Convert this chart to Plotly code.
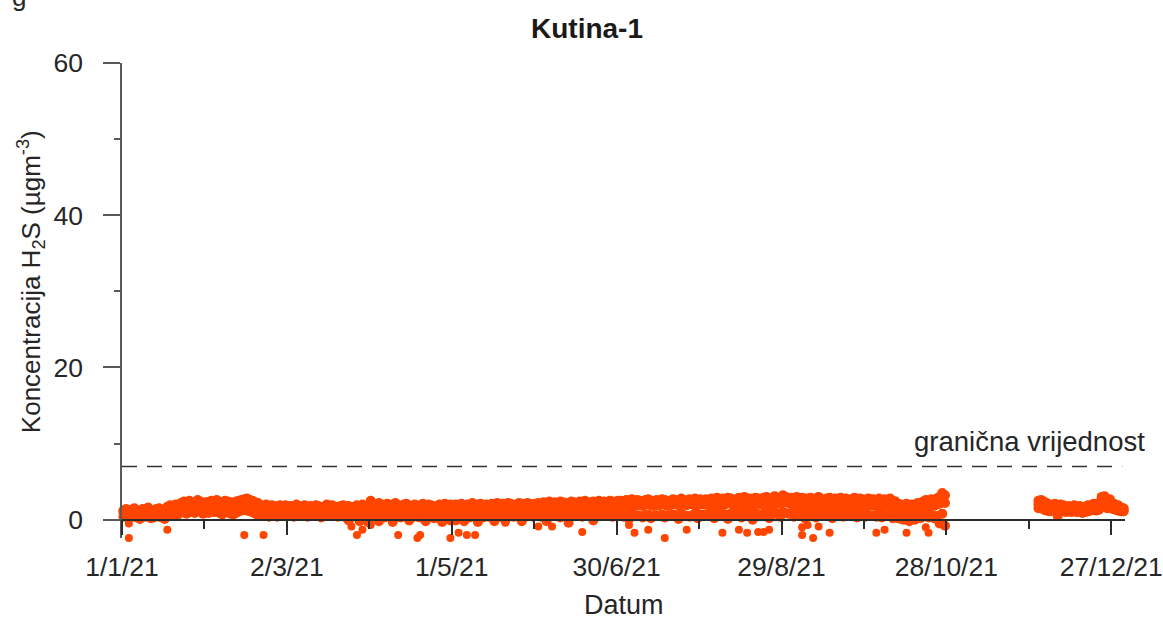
import pandas as pd
import plotly.graph_objects as go

# ---------------- data ----------------
TITLE = "Kutina-1"
X_TICK_DATES = ["2021-01-01", "2021-03-02", "2021-05-01", "2021-06-30",
                "2021-08-29", "2021-10-28", "2021-12-27"]
X_TICK_TEXT = ["1/1/21", "2/3/21", "1/5/21", "30/6/21", "29/8/21", "28/10/21", "27/12/21"]
Y_TICKS = [0, 20, 40, 60]
LIMIT_VALUE = 7  # granična vrijednost

MONTH_STARTS = ["2021-01-01", "2021-02-01", "2021-03-01", "2021-04-01", "2021-05-01",
                "2021-06-01", "2021-07-01", "2021-08-01", "2021-09-01", "2021-10-01",
                "2021-11-30"]

# daily upper values
JAN_HI = [1.2,1.4,1.1,1.3,1.5,1.2,1.0,1.4,1.3,1.6,1.2,1.1,1.4,1.5,1.3,1.2,
          1.7,1.9,1.6,2.0,1.8,2.2,2.4,2.1,2.5,2.3,2.2,2.6,2.4,2.1,2.3]
FEB_HI = [2.3,2.5,2.4,2.6,2.3,2.2,2.5,2.4,2.3,2.2,2.4,2.5,2.6,2.7,2.8,2.6,2.5,2.3,2.2,1.9,
          1.8,2.0,1.7,1.9,1.8,1.6,1.9,1.8]
MAR_HI = [1.9,1.7,1.8,1.6,2.0,1.8,1.7,1.9,1.6,1.8,1.7,1.9,1.8,1.6,1.7,2.0,1.8,1.9,1.7,1.6,
          1.8,1.9,1.7,1.8,1.6,1.7,1.9,1.8,2.0,1.7,1.8]
APR_HI = [2.5,2.1,1.9,2.2,2.0,1.8,2.1,1.9,2.0,2.2,1.9,1.8,2.0,2.1,1.9,1.7,2.0,1.8,1.9,2.1,
          1.8,2.0,1.9,1.7,1.8,2.0,1.9,2.1,1.8,2.0]
MAY_HI = [1.9,2.0,1.8,2.1,1.9,2.0,1.8,2.2,1.9,2.0,2.1,1.8,2.0,1.9,2.1,2.0,2.2,1.9,2.1,2.0,
          2.2,2.1,1.9,2.0,2.2,2.1,2.0,2.2,2.1,1.9,2.1]
JUN_HI = [2.2,2.1,2.3,2.2,2.4,2.1,2.3,2.2,2.4,2.3,2.1,2.2,2.4,2.3,2.2,2.4,2.3,2.5,2.2,2.3,
          2.4,2.2,2.5,2.3,2.4,2.2,2.5,2.4,2.3,2.5]
JUL_HI = [2.5,2.4,2.6,2.5,2.7,2.4,2.6,2.5,2.4,2.6,2.7,2.5,2.4,2.6,2.5,2.7,2.6,2.4,2.5,2.7,
          2.6,2.5,2.8,2.6,2.5,2.7,2.6,2.8,2.5,2.7,2.6]
AUG_HI = [2.7,2.6,2.8,2.7,2.9,2.6,2.8,2.7,2.9,2.8,2.6,2.7,2.9,2.8,3.0,2.7,2.8,2.6,2.9,2.8,
          2.7,2.9,3.0,2.8,2.7,3.1,2.9,2.8,3.2,3.0,2.9]
SEP_HI = [2.9,2.8,3.0,2.7,2.9,2.8,2.6,2.9,2.7,2.8,3.0,2.7,2.6,2.8,2.9,2.7,2.8,2.6,2.9,2.7,
          2.8,2.6,2.7,2.9,2.6,2.8,2.7,2.6,2.8,2.7]
OCT_HI = [2.7,2.6,2.8,2.5,2.7,2.6,2.8,2.5,2.4,2.1,2.0,1.9,2.1,1.8,2.0,1.9,2.2,2.1,2.4,2.6,
          2.5,2.7,2.6,2.8,3.0,3.5,3.2]
DEC_HI = [2.5,2.6,2.4,2.2,2.0,1.9,2.1,1.8,2.0,1.9,1.7,1.8,1.6,1.9,1.7,1.8,1.6,1.7,1.9,1.8,
          2.1,2.0,2.2,3.0,3.1,2.4,2.7,2.2,2.0,1.9,1.6,1.5]

# daily typical values
JAN_MID = [1.0,1.1,0.9,1.2,1.0,1.1,0.8,1.2,1.0,1.3,0.9,1.0,1.1,1.2,1.0,0.9,
           1.3,1.5,1.2,1.6,1.4,1.7,1.8,1.6,1.9,1.7,1.6,2.0,1.8,1.6,1.7]
FEB_MID = [1.7,1.9,1.8,2.0,1.7,1.6,1.9,1.8,1.7,1.6,1.8,1.9,2.0,2.1,2.1,2.0,1.9,1.7,1.6,1.4,
           1.3,1.5,1.2,1.4,1.3,1.2,1.4,1.3]
MAR_MID = [1.3,1.2,1.3,1.1,1.4,1.3,1.2,1.4,1.1,1.3,1.2,1.4,1.3,1.1,1.2,1.4,1.3,1.4,1.2,1.1,
           1.3,1.4,1.2,1.3,1.1,1.2,1.4,1.3,1.5,1.2,1.3]
APR_MID = [1.6,1.4,1.3,1.5,1.3,1.2,1.4,1.3,1.3,1.5,1.2,1.1,1.3,1.4,1.2,1.0,1.3,1.1,1.2,1.4,
           1.1,1.3,1.2,1.0,1.1,1.3,1.2,1.4,1.1,1.3]
MAY_MID = [1.3,1.4,1.2,1.5,1.3,1.4,1.2,1.5,1.3,1.4,1.5,1.2,1.4,1.3,1.5,1.4,1.6,1.3,1.5,1.4,
           1.6,1.5,1.3,1.4,1.6,1.5,1.4,1.6,1.5,1.3,1.5]
JUN_MID = [1.6,1.5,1.7,1.6,1.8,1.5,1.7,1.6,1.8,1.7,1.5,1.6,1.8,1.7,1.6,1.8,1.7,1.9,1.6,1.7,
           1.8,1.6,1.9,1.7,1.8,1.6,1.9,1.8,1.7,1.9]
JUL_MID = [1.9,1.8,2.0,1.9,2.1,1.8,2.0,1.9,1.8,2.0,2.1,1.9,1.8,2.0,1.9,2.1,2.0,1.8,1.9,2.1,
           2.0,1.9,2.2,2.0,1.9,2.1,2.0,2.2,1.9,2.1,2.0]
AUG_MID = [2.0,1.9,2.1,2.0,2.2,1.9,2.1,2.0,2.2,2.1,1.9,2.0,2.2,2.1,2.3,2.0,2.1,1.9,2.2,2.1,
           2.0,2.2,2.3,2.1,2.0,2.4,2.2,2.1,2.4,2.3,2.2]
SEP_MID = [2.1,2.0,2.2,1.9,2.1,2.0,1.8,2.1,1.9,2.0,2.2,1.9,1.8,2.0,2.1,1.9,2.0,1.8,2.1,1.9,
           2.0,1.8,1.9,2.1,1.8,2.0,1.9,1.8,2.0,1.9]
OCT_MID = [1.9,1.8,2.0,1.7,1.9,1.8,2.0,1.7,1.6,1.4,1.3,1.2,1.4,1.1,1.3,1.2,1.5,1.4,1.6,1.8,
           1.7,1.9,1.8,2.0,2.1,2.4,2.2]
DEC_MID = [2.0,2.1,1.9,1.7,1.6,1.5,1.7,1.4,1.6,1.5,1.4,1.5,1.3,1.5,1.4,1.4,1.3,1.4,1.5,1.5,
           1.7,1.6,1.8,2.4,2.5,2.0,2.2,1.8,1.7,1.6,1.4,1.3]

# daily lower values
JAN_LO = [0.4,0.5,0.2,0.6,0.4,0.3,0.1,0.5,0.4,0.6,0.2,0.3,0.5,0.4,0.3,0.1,
          0.6,0.8,0.5,0.9,0.7,1.0,1.1,0.8,1.2,1.0,0.9,1.2,1.1,0.8,1.0]
FEB_LO = [0.9,1.1,1.0,1.2,0.9,0.7,1.1,1.0,0.8,0.7,0.9,1.1,1.2,1.3,1.2,1.1,1.0,0.8,0.6,0.5,
          0.5,0.7,0.4,0.6,0.5,0.4,0.7,0.5]
MAR_LO = [0.7,0.5,0.6,0.4,0.8,0.6,0.5,0.7,0.4,0.6,0.5,0.7,0.6,0.3,0.5,0.7,0.6,0.8,0.5,0.4,
          0.6,0.7,0.3,-0.1,0.4,0.6,0.5,-0.2,0.4,0.5,-0.3]
APR_LO = [0.6,0.4,0.5,-0.2,0.5,0.3,0.6,0.4,-0.3,0.7,0.4,0.3,0.5,0.6,-0.1,0.3,0.5,0.4,0.3,0.6,
          -0.2,0.5,0.4,0.2,0.3,0.5,-0.3,0.6,0.3,-0.1]
MAY_LO = [0.5,-0.1,0.4,0.6,-0.2,0.5,0.3,0.6,0.4,-0.3,0.6,0.3,0.5,0.4,0.6,-0.2,0.7,0.4,0.5,-0.1,
          0.7,0.6,0.4,0.5,0.7,-0.2,0.5,0.7,0.6,0.4,0.6]
JUN_LO = [0.6,0.4,0.7,-0.2,0.7,0.5,0.6,0.5,0.3,0.6,0.5,-0.4,0.7,0.6,0.5,0.7,0.4,0.8,0.5,0.6,
          -0.1,0.5,0.8,0.6,0.7,0.5,0.8,0.4,0.6,0.8]
JUL_LO = [0.6,0.4,0.7,0.1,0.7,0.5,0.6,0.5,0.3,0.6,0.7,0.2,0.5,0.6,0.5,0.7,0.3,0.5,0.6,0.7,
          0.6,0.1,0.8,0.6,0.5,0.4,0.6,0.8,0.2,0.7,0.6]
AUG_LO = [0.7,0.5,0.8,0.2,0.9,0.6,0.8,0.7,0.1,0.8,0.5,0.7,0.9,0.3,1.0,0.6,0.8,0.0,0.9,0.7,
          0.6,0.8,1.0,0.2,0.7,1.0,0.8,0.4,1.0,0.9,0.8]
SEP_LO = [0.9,0.4,1.0,0.7,0.9,0.2,0.6,0.9,0.7,0.3,1.0,0.7,0.5,0.8,0.9,0.2,0.8,0.6,0.9,0.4,
          0.8,0.5,0.7,0.9,0.3,0.8,0.6,0.4,0.7,0.5]
OCT_LO = [0.6,0.4,0.7,0.3,0.6,0.5,0.7,0.2,0.3,0.2,0.1,0.0,0.3,-0.2,0.1,0.0,0.3,0.2,0.4,0.5,
          0.3,0.6,0.2,0.5,-0.5,0.8,-0.8]
DEC_LO = [1.5,1.6,1.3,1.2,1.1,1.2,1.3,0.5,1.1,1.2,1.0,1.1,1.0,1.1,1.0,1.1,0.9,1.0,1.1,1.2,
          1.3,1.2,1.3,1.8,1.9,1.5,1.6,1.4,1.3,1.2,1.1,1.1]

# isolated low readings below the band
OUTLIER_DATES = ["2021-01-03", "2021-01-03", "2021-01-17", "2021-01-31", "2021-02-14",
                 "2021-02-21", "2021-03-25", "2021-03-27", "2021-03-29", "2021-04-01",
                 "2021-04-11", "2021-04-16", "2021-04-18", "2021-04-19", "2021-04-30",
                 "2021-05-03", "2021-05-06", "2021-05-09", "2021-05-20", "2021-06-01",
                 "2021-06-06", "2021-06-17", "2021-07-04", "2021-07-06", "2021-07-11",
                 "2021-07-17", "2021-07-25", "2021-08-07", "2021-08-13", "2021-08-16",
                 "2021-08-20", "2021-08-22", "2021-08-24", "2021-09-05", "2021-09-05",
                 "2021-09-07", "2021-09-09", "2021-09-11", "2021-09-15", "2021-10-02",
                 "2021-10-05", "2021-10-13", "2021-10-20", "2021-10-21", "2021-10-23",
                 "2021-10-24"]
OUTLIER_VALUES = [-2.4, -0.5, -1.3, -2.9, -2.0,
                  -2.0, -0.9, -2.0, -1.3, -0.7,
                  -2.0, -3.0, -2.4, -2.0, -2.4,
                  -1.7, -2.0, -2.0, -0.4, -0.9,
                  -0.9, -1.6, -0.7, -1.7, -1.3,
                  -2.4, -1.3, -1.7, -1.3, -1.7,
                  -1.6, -1.6, -1.3, -1.0, -2.0,
                  -0.7, -2.4, -0.9, -1.7, -1.7,
                  -1.3, -1.7, -1.0, -1.7, -2.9,
                  -3.0]

HI_MONTHS = [JAN_HI, FEB_HI, MAR_HI, APR_HI, MAY_HI, JUN_HI, JUL_HI, AUG_HI, SEP_HI, OCT_HI, DEC_HI]
MID_MONTHS = [JAN_MID, FEB_MID, MAR_MID, APR_MID, MAY_MID, JUN_MID, JUL_MID, AUG_MID, SEP_MID, OCT_MID, DEC_MID]
LO_MONTHS = [JAN_LO, FEB_LO, MAR_LO, APR_LO, MAY_LO, JUN_LO, JUL_LO, AUG_LO, SEP_LO, OCT_LO, DEC_LO]

# ---------------- styling ----------------
ORANGE = "#FF4500"
FONT = "Liberation Sans, Arial, sans-serif"
W, H = 1163, 618
ML, MR, MT, MB = 121.7, 37.5, 63, 79.5
Y_RANGE = [-2.4, 60]


def build(month_lists):
    xs, ys = [], []
    for start, vals in zip(MONTH_STARTS, month_lists):
        dates = pd.date_range(pd.Timestamp(start) + pd.Timedelta(hours=12), periods=len(vals), freq="D")
        xs.extend(dates)
        ys.extend(vals)
    return xs, ys


fig = go.Figure()
for month_lists in (LO_MONTHS, MID_MONTHS, HI_MONTHS):
    xs, ys = build(month_lists)
    fig.add_trace(go.Scatter(x=xs, y=ys, mode="markers", cliponaxis=False,
                             marker=dict(size=10, color=ORANGE, line=dict(width=0)),
                             showlegend=False))
fig.add_trace(go.Scatter(x=pd.to_datetime(OUTLIER_DATES) + pd.Timedelta(hours=12), y=OUTLIER_VALUES,
                         mode="markers", cliponaxis=False,
                         marker=dict(size=8, color=ORANGE, line=dict(width=0)),
                         showlegend=False))

# limit value dashed line
fig.add_shape(type="line", xref="x", yref="y", x0="2021-01-01", x1="2021-12-31",
              y0=LIMIT_VALUE, y1=LIMIT_VALUE,
              line=dict(color="#333333", width=1.5, dash="15px,10px"), layer="below")

plot_w = W - ML - MR
plot_h = H - MT - MB

fig.update_layout(
    width=W, height=H,
    margin=dict(l=ML, r=MR, t=MT, b=MB, autoexpand=False),
    paper_bgcolor="white", plot_bgcolor="white",
    font=dict(family=FONT, size=26, color="#262626"),
    showlegend=False,
    title=dict(text="<b>" + TITLE + "</b>", x=587 / W, xanchor="center", xref="container",
               y=1 - 28 / H, yanchor="middle", yref="container",
               font=dict(family=FONT, size=28, color="#1a1a1a")),
    xaxis=dict(type="date", range=["2021-01-01", "2022-01-01"], showgrid=False, zeroline=False,
               showline=True, linecolor="#2b2b2b", linewidth=1.5,
               anchor="free", position=(0 - Y_RANGE[0]) / (Y_RANGE[1] - Y_RANGE[0]),
               ticks="outside", ticklen=15, tickwidth=1.5, tickcolor="#2b2b2b",
               tickvals=X_TICK_DATES, ticktext=X_TICK_TEXT, ticklabelstandoff=9,
               tickfont=dict(family=FONT, size=26.5, color="#262626"),
               minor=dict(ticks="outside", ticklen=9, tickwidth=1.5, tickcolor="#2b2b2b",
                          tick0="2021-01-01", dtick=30 * 86400000),
               automargin=False),
    yaxis=dict(range=Y_RANGE, showgrid=False, zeroline=False, showline=True,
               linecolor="#5a5a5a", linewidth=1.5,
               ticks="outside", ticklen=17, tickwidth=1.5, tickcolor="#5a5a5a",
               tickvals=Y_TICKS, ticklabelstandoff=15,
               tickfont=dict(family=FONT, size=26.5, color="#262626"),
               minor=dict(ticks="outside", ticklen=6, tickwidth=1.5, tickcolor="#5a5a5a",
                          tick0=0, dtick=10),
               automargin=False),
)

# axis titles and labels
fig.add_annotation(text="Datum", xref="paper", yref="paper",
                   x=0.5, y=-(606 - MT - plot_h) / plot_h,
                   xanchor="center", yanchor="middle", showarrow=False,
                   font=dict(family=FONT, size=27, color="#262626"))
fig.add_annotation(text="Koncentracija H<sub>2</sub>S (µgm<sup>-3</sup>)", textangle=-90,
                   xref="paper", yref="paper",
                   x=(30 - ML) / plot_w, y=1 - (282 - MT) / plot_h,
                   xanchor="center", yanchor="middle", showarrow=False,
                   font=dict(family=FONT, size=26, color="#262626"))
fig.add_annotation(text="granična vrijednost", xref="paper", yref="y",
                   x=(1148 - ML) / plot_w, y=10.3, xanchor="right", yanchor="middle",
                   showarrow=False, font=dict(family=FONT, size=27.5, color="#262626"))
fig.add_annotation(text="g", xref="paper", yref="paper",
                   x=(10 - ML) / plot_w, y=1 + (MT - 14) / plot_h, xanchor="left", yanchor="bottom",
                   showarrow=False, font=dict(family=FONT, size=26, color="#262626"))

fig.write_html("out.html", config={"displayModeBar": False},
               post_script="document.body.style.margin='0px';")
